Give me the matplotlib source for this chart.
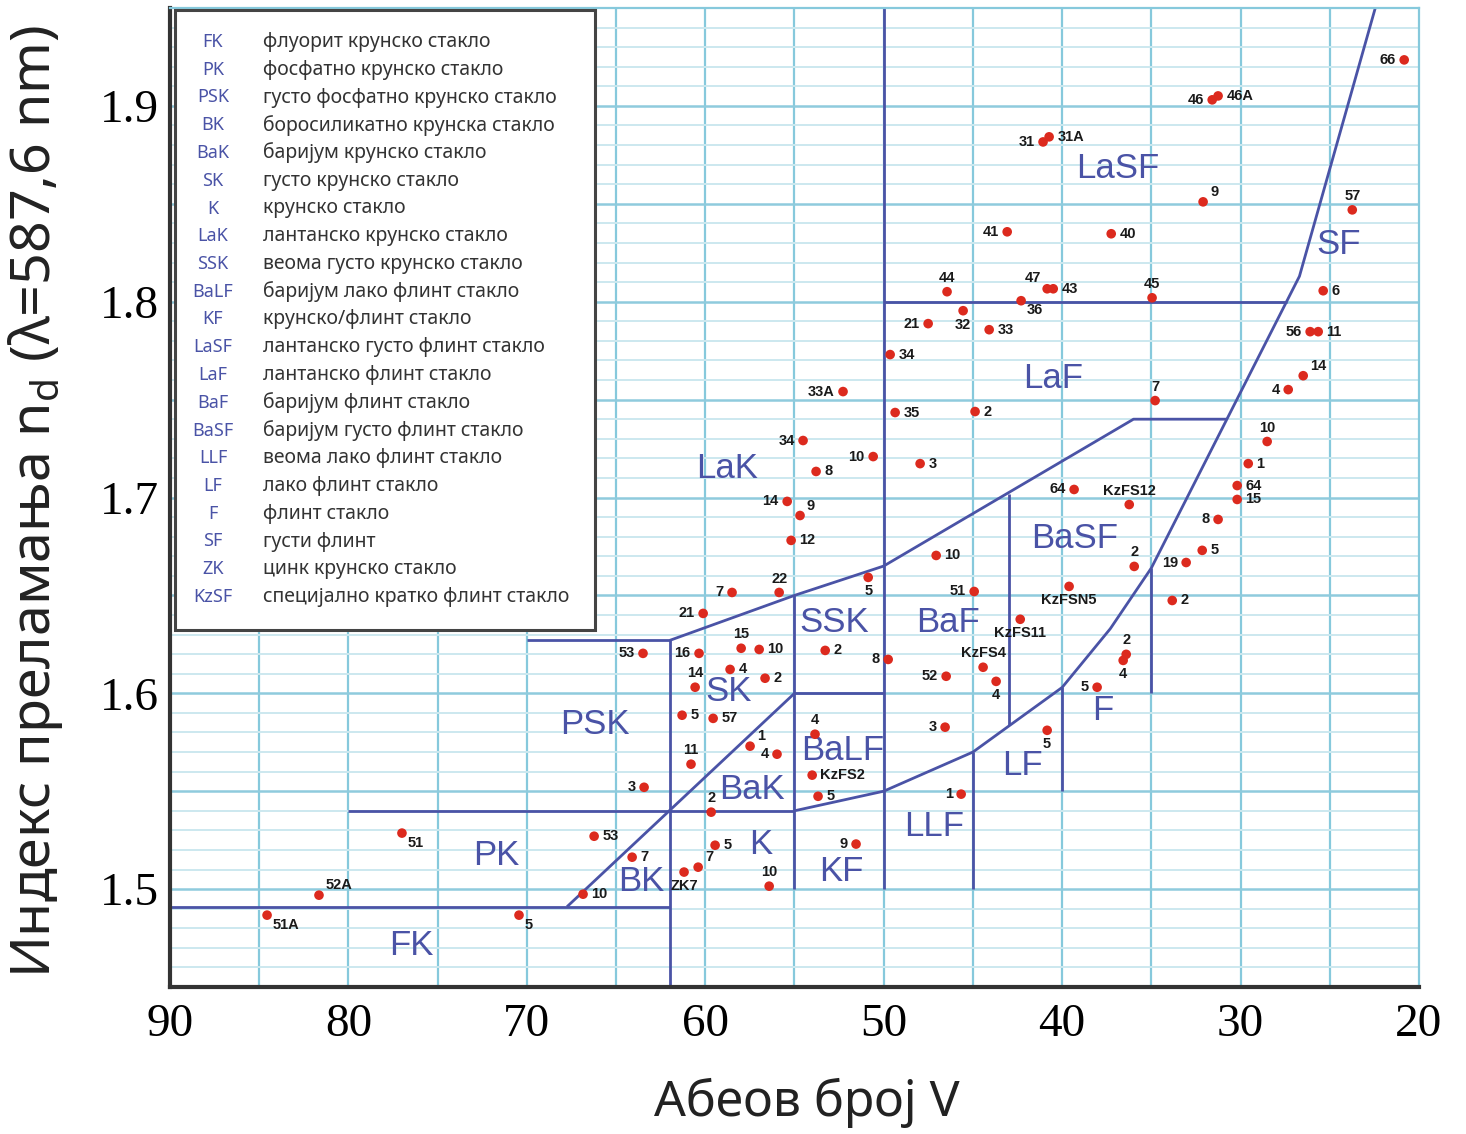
import numpy as np
import matplotlib.pyplot as plt
from matplotlib.patches import Rectangle

# glass types: catalogue number, Abbe number V, refractive index n_d
glass_names = ['66', '46', '46A', '31', '31A', '9', '40', '41', '57', '47', '43', '45', '36', '6',
               '44', '32', '21', '33', '34', '33A', '35', '2', '34', '10', '3', '8', '14', '9', '12',
               '10', '22', '7', '5', '51', '21', 'KzFS11', '56', '11', '14', '4', '7', '10', '1',
               '64', '15', '8', '5', '19', '2', '2', '64', 'KzFS12', 'KzFSN5', '2', '4', '5', '5',
               '53', '16', '15', '10', '2', '8', 'KzFS4', '4', '52', '4', '14', '2', '5', '57', '4',
               '1', '4', '11', '3', 'KzFS2', '3', '2', '5', '1', '53', '5', '9', '7', '7', 'ZK7',
               '10', '10', '51', '52A', '51A', '5']
abbe_v = [20.83, 31.59, 31.26, 41.07, 40.73, 32.10, 37.25, 43.08, 23.74, 40.84, 40.50, 34.96, 42.30, 25.37,
          46.45, 45.55, 47.51, 44.09, 49.64, 52.28, 49.36, 44.88, 54.52, 50.59, 47.96, 53.79, 55.41, 54.69, 55.19,
          47.06, 55.86, 58.50, 50.87, 44.93, 60.12, 42.35, 26.10, 25.65, 26.49, 27.33, 34.79, 28.51, 29.57,
          30.19, 30.19, 31.26, 32.15, 33.05, 35.96, 33.83, 39.33, 36.24, 39.61, 36.41, 36.58, 38.04, 40.84,
          63.49, 60.35, 57.99, 56.98, 53.28, 49.75, 44.43, 43.70, 46.50, 58.61, 60.57, 56.65, 61.30, 59.56, 53.85,
          57.49, 55.98, 60.80, 46.56, 54.01, 63.43, 59.67, 53.68, 45.66, 66.23, 59.45, 51.55, 64.10, 60.40, 61.19,
          56.42, 66.85, 77.00, 81.65, 84.56, 70.44]
index_n = [1.9235, 1.9031, 1.9051, 1.8816, 1.8842, 1.8510, 1.8347, 1.8357, 1.8469, 1.8066, 1.8066, 1.8020, 1.8005, 1.8056,
           1.8051, 1.7954, 1.7888, 1.7857, 1.7730, 1.7541, 1.7434, 1.7439, 1.7291, 1.7209, 1.7173, 1.7133, 1.6980, 1.6908, 1.6781,
           1.6704, 1.6515, 1.6515, 1.6592, 1.6520, 1.6408, 1.6378, 1.7847, 1.7847, 1.7622, 1.7551, 1.7495, 1.7286, 1.7173,
           1.7061, 1.6990, 1.6888, 1.6730, 1.6668, 1.6648, 1.6474, 1.7041, 1.6964, 1.6546, 1.6199, 1.6168, 1.6031, 1.5811,
           1.6204, 1.6204, 1.6230, 1.6224, 1.6219, 1.6173, 1.6133, 1.6061, 1.6087, 1.6122, 1.6031, 1.6077, 1.5888, 1.5872, 1.5791,
           1.5730, 1.5689, 1.5638, 1.5827, 1.5582, 1.5520, 1.5393, 1.5474, 1.5485, 1.5270, 1.5224, 1.5230, 1.5163, 1.5112, 1.5087,
           1.5015, 1.4974, 1.5286, 1.4969, 1.4867, 1.4867]
# where the number sits relative to its dot
label_side = ['l', 'l', 'r', 'l', 'r', 'ur', 'r', 'l', 'a', 'ul', 'r', 'a', 'lr', 'r',
              'a', 'b', 'l', 'r', 'r', 'l', 'r', 'r', 'l', 'l', 'r', 'r', 'l', 'ur', 'r',
              'r', 'a', 'l', 'b', 'l', 'l', 'b', 'l', 'r', 'ur', 'l', 'a', 'a', 'r',
              'r', 'r', 'l', 'r', 'l', 'a', 'r', 'l', 'a', 'b', 'a', 'b', 'l', 'b',
              'l', 'l', 'a', 'r', 'r', 'l', 'a', 'b', 'l', 'r', 'a', 'r', 'r', 'r', 'a',
              'ur', 'l', 'a', 'l', 'r', 'l', 'a', 'r', 'l', 'r', 'r', 'l', 'r', 'ur', 'b',
              'a', 'r', 'lr', 'ur', 'lr', 'lr']

# region boundaries as (V, n) polylines
boundaries = [
    [(90, 1.491), (62, 1.491)],
    [(62, 1.45), (62, 1.627)],
    [(70, 1.627), (62, 1.627)],
    [(80, 1.540), (55, 1.540)],
    [(67.75, 1.491), (55, 1.600)],
    [(62, 1.627), (55, 1.650), (50, 1.665), (36, 1.740), (30.77, 1.740)],
    [(55, 1.50), (55, 1.650)],
    [(50, 1.50), (50, 1.95)],
    [(55, 1.60), (50, 1.60)],
    [(55, 1.540), (50, 1.550), (45, 1.570), (40, 1.603), (37.3, 1.633),
     (35, 1.664), (26.7, 1.813), (22.45, 1.95)],
    [(45, 1.50), (45, 1.570)],
    [(43, 1.584), (43, 1.702)],
    [(40, 1.55), (40, 1.603)],
    [(35, 1.60), (35, 1.664)],
    [(50, 1.80), (27.4, 1.80)],
]

region_names = ['FK', 'PK', 'PSK', 'BK', 'SK', 'BaK', 'K', 'SSK', 'BaLF', 'KF', 'LLF',
                'LF', 'F', 'BaF', 'BaSF', 'LaK', 'LaF', 'LaSF', 'SF']
region_v = [76.5, 71.7, 66.2, 63.6, 58.7, 57.4, 56.9, 52.8, 52.3, 52.4, 47.2,
            42.2, 37.7, 46.4, 39.3, 58.8, 40.5, 36.9, 24.5]
region_n = [1.471, 1.517, 1.584, 1.504, 1.601, 1.551, 1.523, 1.636, 1.571, 1.509, 1.532,
            1.563, 1.591, 1.636, 1.679, 1.715, 1.761, 1.868, 1.829]

legend_abbr = ['FK', 'PK', 'PSK', 'BK', 'BaK', 'SK', 'K', 'LaK', 'SSK', 'BaLF', 'KF',
               'LaSF', 'LaF', 'BaF', 'BaSF', 'LLF', 'LF', 'F', 'SF', 'ZK', 'KzSF']
legend_desc = ['флуорит крунско стакло', 'фосфатно крунско стакло', 'густо фосфатно крунско стакло',
               'боросиликатно крунска стакло', 'баријум крунско стакло', 'густо крунско стакло',
               'крунско стакло', 'лантанско крунско стакло', 'веома густо крунско стакло',
               'баријум лако флинт стакло', 'крунско/флинт стакло', 'лантанско густо флинт стакло',
               'лантанско флинт стакло', 'баријум флинт стакло', 'баријум густо флинт стакло',
               'веома лако флинт стакло', 'лако флинт стакло', 'флинт стакло', 'густи флинт',
               'цинк крунско стакло', 'специјално кратко флинт стакло']

BLUE = '#4a53a6'
RED = '#dc2a1e'
GRID_V = '#86c9dc'
GRID_MINOR = '#cce8ef'
GRID_MAJOR = '#8fcbdd'

W, H = 1466, 1134
fig = plt.figure(figsize=(W / 100, H / 100), dpi=100)
ax = fig.add_axes([170 / W, 1 - 987 / H, 1249 / W, 979 / H])
ax.set_xlim(90, 20)
ax.set_ylim(1.45, 1.95)

# paper-like grid
for v in np.arange(25, 90, 5):
    ax.axvline(v, color=GRID_V, lw=1.6, zorder=0)
for k in range(1, 50):
    major = k % 5 == 0
    ax.axhline(1.45 + k * 0.01, color=GRID_MAJOR if major else GRID_MINOR,
               lw=1.8 if major else 1.4, zorder=0)

for side in ['left', 'bottom']:
    ax.spines[side].set_color('#333333')
    ax.spines[side].set_linewidth(3)
for side in ['top', 'right']:
    ax.spines[side].set_color(GRID_V)
    ax.spines[side].set_linewidth(1.6)

ax.set_xticks(np.arange(90, 19, -10))
ax.set_yticks([1.5, 1.6, 1.7, 1.8, 1.9])
ax.set_yticklabels(['1.5', '1.6', '1.7', '1.8', '1.9'])
ax.tick_params(axis='both', length=0, labelsize=34)
ax.tick_params(axis='x', pad=12)
ax.tick_params(axis='y', pad=8)
for t in ax.get_xticklabels() + ax.get_yticklabels():
    t.set_fontfamily('Liberation Serif')

# region boundaries
for line in boundaries:
    xs, ys = zip(*line)
    ax.plot(xs, ys, color=BLUE, lw=2, zorder=2, solid_capstyle='butt')

for name, v, n in zip(region_names, region_v, region_n):
    ax.text(v, n, name, color=BLUE, fontsize=25, family='Liberation Sans',
            ha='center', va='center', zorder=3)

# glass points
ax.scatter(abbe_v, index_n, s=48, color=RED, edgecolors='none', zorder=4)
offsets = {
    'r': ((6, 0), 'left', 'center'),
    'l': ((-6, 0), 'right', 'center'),
    'a': ((0, 5), 'center', 'bottom'),
    'b': ((0, -5), 'center', 'top'),
    'ur': ((5, 2), 'left', 'bottom'),
    'ul': ((-4, 3), 'right', 'bottom'),
    'lr': ((4, -2), 'left', 'top'),
    'bl': ((-3, -3), 'right', 'top'),
}
for name, v, n, side in zip(glass_names, abbe_v, index_n, label_side):
    off, ha, va = offsets[side]
    ax.annotate(name, (v, n), xytext=off, textcoords='offset points', ha=ha, va=va,
                fontsize=10.5, fontweight='bold', family='Liberation Sans',
                color='#1a1a1a', zorder=5)

# legend box
lx0, lx1 = (175 - 170) / 1249, (595 - 170) / 1249
ly0, ly1 = 1 - (630 - 8) / 979, 1 - (10 - 8) / 979
ax.add_patch(Rectangle((lx0, ly0), lx1 - lx0, ly1 - ly0, transform=ax.transAxes,
                       facecolor='white', edgecolor='#444444', lw=2.2, zorder=6))
for i, (ab, desc) in enumerate(zip(legend_abbr, legend_desc)):
    yy = 1 - (42 + i * 27.75 - 8) / 979
    ax.text((213 - 170) / 1249, yy, ab, transform=ax.transAxes, color=BLUE,
            fontsize=13, family='Noto Sans', ha='center', va='center', zorder=7)
    ax.text((263 - 170) / 1249, yy, desc, transform=ax.transAxes, color='#333333',
            fontsize=14, family='Noto Sans', ha='left', va='center', zorder=7)

fig.text(807 / W, 1 - 1103 / H, 'Абеов број V', fontsize=36, family='Noto Sans',
         color='#222222', ha='center', va='center')
fig.text(36 / W, 1 - 502 / H, 'Индекс преламања n$_\\mathregular{d}$ (λ=587,6 nm)',
         fontsize=40, family='Noto Sans', color='#222222', rotation=90,
         ha='center', va='center')

fig.savefig('out.png', dpi=100)
